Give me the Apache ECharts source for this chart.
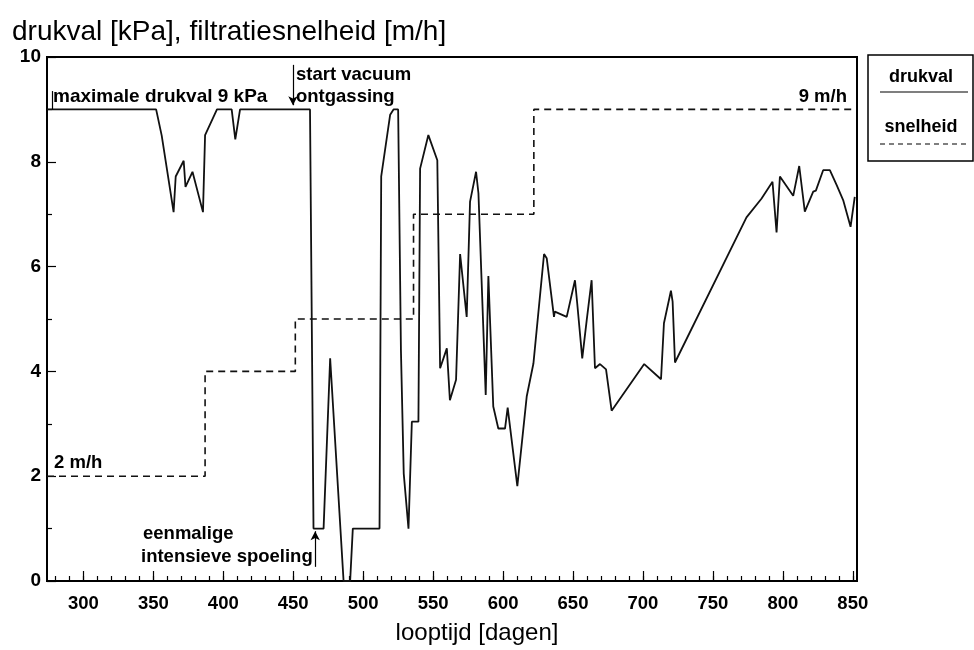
<!DOCTYPE html>
<html><head><meta charset="utf-8">
<script src="https://cdn.jsdelivr.net/npm/echarts@6/dist/echarts.min.js"></script>
<style>html,body{margin:0;padding:0;background:#fff}#c{width:974px;height:650px}</style>
</head><body><div id="c"></div>
<script>
// looptijd [dagen] and drukval [kPa]
const drukvalX = [274, 352, 356, 364.5, 366, 371.7, 373, 378, 385.5, 387, 395.5, 406, 408.6, 412, 462, 464.5, 471.7, 476.4, 486, 490.7, 492.6, 511.7, 512.9, 519.3, 521.7, 525, 527, 529, 532.4, 534.8, 539.5, 540.7, 546.6, 548, 553, 555, 559.8, 562, 566.4, 569.3, 574, 576.4, 580.7, 582.4, 587.6, 589.5, 593, 596.6, 601.4, 603.3, 610.2, 616.9, 621.7, 629.3, 631.2, 636.4, 637, 645.5, 651.4, 653, 656.6, 659.8, 663.3, 665.7, 669.3, 673.6, 677.6, 700.9, 712.9, 715, 720, 721.2, 722.9, 774, 784.8, 792.6, 795.5, 797.9, 807.4, 811.7, 815.7, 821.7, 823.6, 828.8, 833.6, 838.4, 843.1, 848.4, 851.4];
const drukvalY = [9, 9, 8.5, 7.04, 7.72, 8.02, 7.52, 7.81, 7.04, 8.51, 9, 9, 8.43, 9, 9, 1, 1, 4.25, 0, 0, 1, 1, 7.72, 8.9, 9, 9, 4.4, 2.05, 1, 3.04, 3.04, 7.87, 8.51, 8.51, 8.03, 4.06, 4.44, 3.45, 3.84, 6.24, 5.04, 7.24, 7.81, 7.4, 3.55, 5.82, 3.33, 2.91, 2.91, 3.31, 1.81, 3.52, 4.15, 6.24, 6.16, 5.04, 5.14, 5.04, 5.74, 5.3, 4.25, 4.98, 5.74, 4.06, 4.14, 4.04, 3.25, 4.14, 3.85, 4.92, 5.54, 5.33, 4.17, 6.94, 7.3, 7.62, 6.65, 7.72, 7.35, 7.92, 7.05, 7.43, 7.45, 7.84, 7.84, 7.56, 7.27, 6.76, 7.33];
// filtratiesnelheid [m/h] (step)
const snelheidX = [274, 387, 387, 451.5, 451.5, 536, 536, 622, 622, 852];
const snelheidY = [2, 2, 4, 4, 5, 5, 7, 7, 9, 9];
// axes
const xTickLabels = [300, 350, 400, 450, 500, 550, 600, 650, 700, 750, 800, 850];
const xMinorTicks = [280, 290, 300, 310, 320, 330, 340, 350, 360, 370, 380, 390, 400, 410, 420, 430, 440, 450, 460, 470, 480, 490, 500, 510, 520, 530, 540, 550, 560, 570, 580, 590, 600, 610, 620, 630, 640, 650, 660, 670, 680, 690, 700, 710, 720, 730, 740, 750, 760, 770, 780, 790, 800, 810, 820, 830, 840, 850];
const yTickLabels = [0, 2, 4, 6, 8, 10];

const FONT = '"Liberation Sans", Arial, sans-serif';
const chart = echarts.init(document.getElementById('c'), null, {renderer: 'canvas'});
const drukvalData = drukvalX.map((x, i) => [x, drukvalY[i]]);
const snelheidData = snelheidX.map((x, i) => [x, snelheidY[i]]);

const annFont = 'bold 18.5px ' + FONT;
function txt(text, x, y, font, align) {
  return {type: 'text', x: x, y: y, silent: true,
    style: {text: text, fill: '#000', font: font || annFont, textAlign: align || 'left', textVerticalAlign: 'middle'}};
}

chart.setOption({
  animation: false,
  backgroundColor: '#fff',
  grid: {left: 47, right: 117, top: 57, bottom: 69, show: true, borderColor: '#000', borderWidth: 2, backgroundColor: 'transparent'},
  xAxis: [{
    type: 'value', min: 274, max: 853,
    axisLine: {show: true, lineStyle: {color: '#000', width: 2}},
    axisTick: {show: true, inside: true, length: 5, customValues: xMinorTicks, lineStyle: {color: '#000', width: 1.2}},
    axisLabel: {show: false},
    splitLine: {show: false}
  }, {
    type: 'value', min: 274, max: 853, position: 'bottom',
    axisLine: {show: false},
    axisTick: {show: true, inside: true, length: 10, customValues: xTickLabels, lineStyle: {color: '#000', width: 1.2}},
    axisLabel: {customValues: xTickLabels, color: '#000', fontFamily: FONT, fontWeight: 'bold', fontSize: 18.5, margin: 13},
    splitLine: {show: false}
  }],
  yAxis: {
    type: 'value', min: 0, max: 10, interval: 2,
    axisLine: {show: true, lineStyle: {color: '#000', width: 2}},
    axisTick: {show: true, inside: true, length: 9, lineStyle: {color: '#000', width: 1.2}},
    minorTick: {show: true, splitNumber: 2, length: 5, lineStyle: {color: '#000', width: 1.2}},
    axisLabel: {color: '#000', fontFamily: FONT, fontWeight: 'bold', fontSize: 19, margin: 6},
    splitLine: {show: false}, minorSplitLine: {show: false}
  },
  series: [{
    name: 'drukval', type: 'line', data: drukvalData, symbol: 'none',
    lineStyle: {color: '#111', width: 1.8}, z: 3,
    markLine: {
      silent: true, symbol: ['none', 'arrow'], symbolSize: [7, 9], animation: false,
      label: {show: false},
      lineStyle: {color: '#000', width: 1.2, type: 'solid'},
      data: [
        [{coord: [449.8, 9.85]}, {coord: [449.8, 9.08]}],
        [{coord: [465.7, 0.27]}, {coord: [465.7, 0.95]}],
        [{coord: [277.6, 9.35], symbol: 'none'}, {coord: [277.6, 9.0], symbol: 'none'}]
      ]
    }
  }, {
    name: 'snelheid', type: 'line', data: snelheidData, symbol: 'none',
    lineStyle: {color: '#111', width: 1.6, type: [7, 5]}, z: 2
  }],
  graphic: [
    txt('drukval [kPa], filtratiesnelheid [m/h]', 12, 32, '28px ' + FONT),
    txt('looptijd [dagen]', 477, 633, '24px ' + FONT, 'center'),
    txt('maximale drukval 9 kPa', 53, 97, 'bold 19px ' + FONT),
    txt('start vacuum', 296, 75),
    txt('ontgassing', 296, 97),
    txt('9 m/h', 847, 97, annFont, 'right'),
    txt('2 m/h', 54, 463),
    txt('eenmalige', 143, 534),
    txt('intensieve spoeling', 141, 557),
    {type: 'rect', shape: {x: 868, y: 55, width: 105, height: 106}, silent: true,
      style: {fill: 'none', stroke: '#000', lineWidth: 1.5}},
    txt('drukval', 921, 77, 'bold 18px ' + FONT, 'center'),
    {type: 'line', shape: {x1: 880, y1: 92, x2: 968, y2: 92}, silent: true, style: {stroke: '#000', lineWidth: 1.2}},
    txt('snelheid', 921, 127, 'bold 18px ' + FONT, 'center'),
    {type: 'line', shape: {x1: 880, y1: 144, x2: 966, y2: 144}, silent: true, style: {stroke: '#000', lineWidth: 1.2, lineDash: [5, 4]}}
  ]
});
</script>
</body></html>
